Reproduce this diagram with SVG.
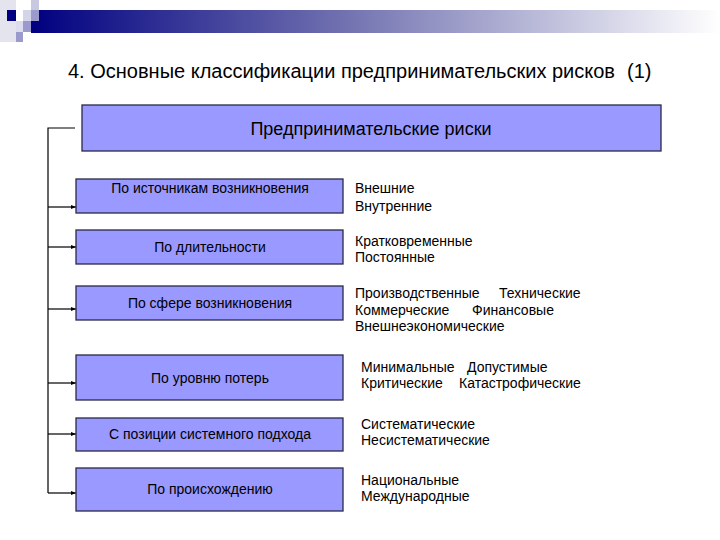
<svg xmlns="http://www.w3.org/2000/svg" width="720" height="540" viewBox="0 0 720 540">
<defs>
<linearGradient id="bar" x1="0" y1="0" x2="1" y2="0">
<stop offset="0" stop-color="#000080"/>
<stop offset="0.45" stop-color="#7070b0"/>
<stop offset="1" stop-color="#ffffff"/>
</linearGradient>
<marker id="arr" viewBox="0 0 10 10" refX="10" refY="5" markerWidth="5" markerHeight="5" orient="auto" markerUnits="userSpaceOnUse">
<path d="M0,1 L10,5 L0,9 z" fill="#000"/>
</marker>
<style>
.box{fill:#9999ff;stroke:#2a2a4a;stroke-width:1.3}
.lbl{font-family:"Liberation Sans",Arial,sans-serif;font-size:14px;fill:#000}
.bl{font-family:"Liberation Sans",Arial,sans-serif;font-size:14px;fill:#000;text-anchor:middle}
.con{fill:none;stroke:#000;stroke-width:1.2}
.ttl{font-family:"Liberation Sans",Arial,sans-serif;font-size:20px;fill:#000}
</style>
</defs>
<rect width="720" height="540" fill="#fff"/>
<g id="header">
<rect x="0" y="0" width="16" height="42" fill="#e4e4ee"/>
<rect x="31" y="10" width="689" height="23" fill="url(#bar)"/>
<rect x="7" y="10" width="9" height="11" fill="#000080"/>
<rect x="31" y="0" width="8" height="10" fill="#c8c8e0"/>
<rect x="23" y="10" width="8" height="11" fill="#d4d4ea"/>
<rect x="31" y="10" width="8" height="11" fill="#9a9acc"/>
<rect x="16" y="21" width="7" height="11" fill="#dcdcee"/>
<rect x="23" y="21" width="8" height="11" fill="#9a9acc"/>
<rect x="16" y="32" width="7" height="10" fill="#9a9acc"/>
</g>
<text class="ttl" x="68" y="78">4. Основные классификации предпринимательских рисков</text>
<text class="ttl" x="627" y="78">(1)</text>
<g id="connectors">
<polyline class="con" points="75,128 48,128 48,493"/>
<line class="con" x1="48" y1="207" x2="76" y2="207" marker-end="url(#arr)"/>
<line class="con" x1="48" y1="247" x2="76" y2="247" marker-end="url(#arr)"/>
<line class="con" x1="48" y1="309" x2="76" y2="309" marker-end="url(#arr)"/>
<line class="con" x1="48" y1="383" x2="76" y2="383" marker-end="url(#arr)"/>
<line class="con" x1="48" y1="434" x2="76" y2="434" marker-end="url(#arr)"/>
<line class="con" x1="48" y1="493" x2="76" y2="493" marker-end="url(#arr)"/>
</g>
<g id="root">
<rect class="box" x="82" y="105" width="579" height="46"/>
<text x="371" y="135" text-anchor="middle" font-family="Liberation Sans,Arial,sans-serif" font-size="18" fill="#000">Предпринимательские риски</text>
</g>
<g id="n1">
<rect class="box" x="76" y="179" width="267" height="34"/>
<text class="bl" x="210" y="193">По источникам возникновения</text>
</g>
<g id="n2">
<rect class="box" x="76" y="230" width="267" height="34"/>
<text class="bl" x="210" y="252">По длительности</text>
</g>
<g id="n3">
<rect class="box" x="76" y="286" width="267" height="34"/>
<text class="bl" x="210" y="308">По сфере возникновения</text>
</g>
<g id="n4">
<rect class="box" x="76" y="355" width="267" height="45"/>
<text class="bl" x="210" y="383">По уровню потерь</text>
</g>
<g id="n5">
<rect class="box" x="76" y="418" width="267" height="33"/>
<text class="bl" x="210" y="439">С позиции системного подхода</text>
</g>
<g id="n6">
<rect class="box" x="76" y="468" width="267" height="43"/>
<text class="bl" x="210" y="494">По происхождению</text>
</g>
<g id="labels">
<text class="lbl" x="355" y="193">Внешние</text>
<text class="lbl" x="355" y="211">Внутренние</text>
<text class="lbl" x="355" y="246">Кратковременные</text>
<text class="lbl" x="355" y="262">Постоянные</text>
<text class="lbl" x="355" y="298">Производственные</text>
<text class="lbl" x="499" y="298">Технические</text>
<text class="lbl" x="355" y="315">Коммерческие</text>
<text class="lbl" x="472" y="315">Финансовые</text>
<text class="lbl" x="355" y="331">Внешнеэкономические</text>
<text class="lbl" x="361" y="372">Минимальные</text>
<text class="lbl" x="467" y="372">Допустимые</text>
<text class="lbl" x="361" y="388">Критические</text>
<text class="lbl" x="459" y="388">Катастрофические</text>
<text class="lbl" x="361" y="429">Систематические</text>
<text class="lbl" x="361" y="445">Несистематические</text>
<text class="lbl" x="361" y="485">Национальные</text>
<text class="lbl" x="361" y="501">Международные</text>
</g>
</svg>
